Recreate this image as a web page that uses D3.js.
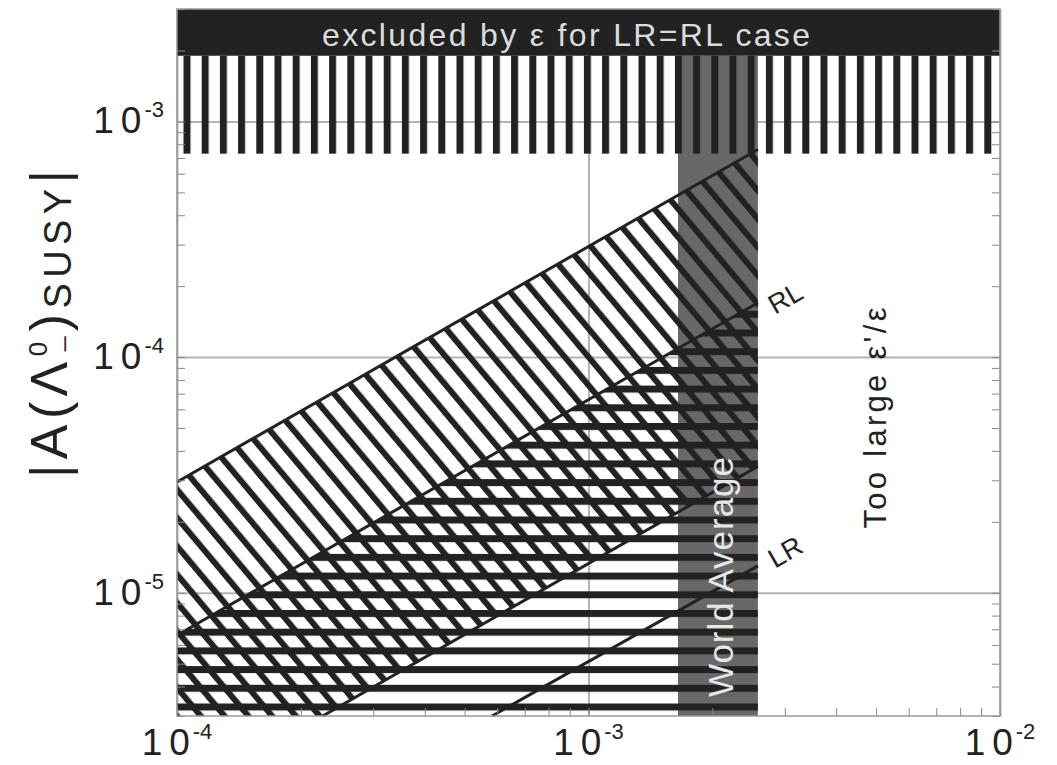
<!DOCTYPE html>
<html><head><meta charset="utf-8">
<script src="https://cdn.jsdelivr.net/npm/d3@7/dist/d3.min.js"></script>
<style>
html,body{margin:0;padding:0;background:#fff;}
svg{display:block;font-family:"Liberation Sans",Arial,Helvetica,sans-serif;}
</style></head>
<body><svg id="chart" width="1057" height="765"></svg>
<script>
// ---------- data ----------
const xDomain = [1e-4, 1e-2];
const yDomain = [3e-6, 3e-3];
const xDecades = [1e-4, 1e-3, 1e-2];
const xTickExponents = ["-4", "-3", "-2"];
const yDecades = [1e-5, 1e-4, 1e-3];
const yTickExponents = ["-5", "-4", "-3"];
const worldAverage = [1.65e-3, 2.58e-3];
const excludedSolid = [1.9e-3, 3e-3];
const excludedStriped = [7.3e-4, 1.9e-3];
// boundary lines: [eps'/eps, |A|] endpoints
const upperLine = [[1e-4, 2.95e-5], [2.58e-3, 7.6e-4]];
const rlLine    = [[1e-4, 6.6e-6],  [2.58e-3, 1.70e-4]];
const midLine   = [[2.26e-4, 3e-6], [2.58e-3, 3.44e-5]];
const lrLine    = [[5.83e-4, 3e-6], [2.58e-3, 1.30e-5]];
const topText = "excluded by ε for LR=RL case";

// ---------- setup ----------
const svg = d3.select("#chart");
const x = d3.scaleLog().domain(xDomain).range([177, 1000]);
const y = d3.scaleLog().domain(yDomain).range([716, 9]);
const X0 = x.range()[0], X1 = x.range()[1], Y0 = y.range()[0], Y1 = y.range()[1];
const ink = "#222";

const defs = svg.append("defs");
defs.append("pattern").attr("id","vstripe").attr("patternUnits","userSpaceOnUse")
  .attr("x",183.5).attr("y",0).attr("width",18.2).attr("height",10)
  .append("rect").attr("x",0).attr("y",0).attr("width",7).attr("height",10).attr("fill",ink);
defs.append("pattern").attr("id","hstripe").attr("patternUnits","userSpaceOnUse")
  .attr("x",0).attr("y",703.5).attr("width",10).attr("height",18.7)
  .append("rect").attr("x",0).attr("y",0).attr("width",10).attr("height",7).attr("fill",ink);
defs.append("pattern").attr("id","dstripe").attr("patternUnits","userSpaceOnUse")
  .attr("x",0).attr("y",0).attr("width",18.2).attr("height",10)
  .attr("patternTransform","rotate(-40)")
  .append("rect").attr("x",0).attr("y",0).attr("width",6).attr("height",10).attr("fill",ink);

svg.append("rect").attr("x",0).attr("y",0).attr("width",1057).attr("height",765).attr("fill","#fff");

// grid lines at decades
svg.append("g").attr("transform",`translate(0,${Y0})`)
  .call(d3.axisBottom(x).tickValues(xDecades).tickSize(-(Y0-Y1)).tickFormat(""))
  .call(g=>g.select(".domain").remove())
  .call(g=>g.selectAll("line").attr("stroke","#b4b4b4").attr("stroke-width",2));
svg.append("g").attr("transform",`translate(${X0},0)`)
  .call(d3.axisLeft(y).tickValues(yDecades).tickSize(-(X1-X0)).tickFormat(""))
  .call(g=>g.select(".domain").remove())
  .call(g=>g.selectAll("line").attr("stroke","#b4b4b4").attr("stroke-width",2));

// world average band
svg.append("rect").attr("x",x(worldAverage[0])).attr("width",x(worldAverage[1])-x(worldAverage[0]))
  .attr("y",y(excludedSolid[0])).attr("height",Y0-y(excludedSolid[0])).attr("fill","#686868");

// excluded region at top
svg.append("rect").attr("x",X0).attr("width",X1-X0).attr("y",y(excludedSolid[1]))
  .attr("height",y(excludedSolid[0])-y(excludedSolid[1])).attr("fill",ink);
svg.append("rect").attr("x",X0).attr("width",X1-X0).attr("y",y(excludedStriped[1]))
  .attr("height",y(excludedStriped[0])-y(excludedStriped[1])).attr("fill","url(#vstripe)");

// hatched regions
const poly = d3.line().x(d=>x(d[0])).y(d=>y(d[1]));
const diagRegion = [upperLine[0], upperLine[1], midLine[1], midLine[0], [xDomain[0], yDomain[0]]];
const horizRegion = [rlLine[0], rlLine[1], [rlLine[1][0], yDomain[0]], [xDomain[0], yDomain[0]]];
svg.append("path").attr("d", poly(diagRegion)+"Z").attr("fill","url(#dstripe)");
svg.append("path").attr("d", poly(horizRegion)+"Z").attr("fill","url(#hstripe)");

// boundary lines
[upperLine, rlLine, midLine, lrLine].forEach(l=>{
  svg.append("path").attr("d", poly(l)).attr("stroke",ink).attr("stroke-width",3).attr("fill","none");
});

// minor ticks (inward)
const minor = y.ticks();
svg.append("g").attr("transform",`translate(${X0},0)`)
  .call(d3.axisLeft(y).tickValues(minor).tickSize(-8).tickFormat(""))
  .call(g=>g.select(".domain").remove())
  .call(g=>g.selectAll("line").attr("stroke","#888"));
svg.append("g").attr("transform",`translate(${X1},0)`)
  .call(d3.axisRight(y).tickValues(minor).tickSize(-8).tickFormat(""))
  .call(g=>g.select(".domain").remove())
  .call(g=>g.selectAll("line").attr("stroke","#888"));
svg.append("g").attr("transform",`translate(0,${Y0})`)
  .call(d3.axisBottom(x).tickValues(x.ticks()).tickSize(-8).tickFormat(""))
  .call(g=>g.select(".domain").remove())
  .call(g=>g.selectAll("line").attr("stroke","#888"));

// frame
svg.append("rect").attr("x",X0).attr("y",Y1).attr("width",X1-X0).attr("height",Y0-Y1)
  .attr("fill","none").attr("stroke","#999").attr("stroke-width",1.5);

// tick labels
function powLabel(sel, exp){
  sel.append("tspan").text("1");
  sel.append("tspan").attr("dx",7).text("0");
  sel.append("tspan").attr("dx",3).attr("dy",-16).attr("font-size",22).text(exp);
}
xDecades.forEach((v,i)=>{
  svg.append("text").attr("x",x(v)).attr("y",755).attr("text-anchor","middle")
    .attr("font-size",37).attr("fill","#222").call(powLabel, xTickExponents[i]);
});
yDecades.forEach((v,i)=>{
  svg.append("text").attr("x",164).attr("y",y(v)+12).attr("text-anchor","end")
    .attr("font-size",37).attr("fill","#222").call(powLabel, yTickExponents[i]);
});

// texts
svg.append("text").attr("x",566).attr("y",46).attr("text-anchor","middle")
  .attr("font-size",32).attr("fill","#dcdcdc").attr("textLength",488).attr("lengthAdjust","spacing")
  .text(topText);

svg.append("text").attr("transform","translate(790,306) rotate(-30)").attr("text-anchor","middle")
  .attr("font-size",27).attr("fill",ink).text("RL");
svg.append("text").attr("transform","translate(790,560) rotate(-30)").attr("text-anchor","middle")
  .attr("font-size",27).attr("fill",ink).text("LR");

svg.append("text").attr("transform","translate(733,577) rotate(-90)").attr("text-anchor","middle")
  .attr("font-size",35).attr("fill","#e6e6e6").attr("textLength",240).attr("lengthAdjust","spacing")
  .text("World Average");

svg.append("text").attr("transform","translate(886,418) rotate(-90)").attr("text-anchor","middle")
  .attr("font-size",31).attr("fill",ink).attr("textLength",221).attr("lengthAdjust","spacing")
  .text("Too large ε'/ε");

// y axis title
const yt = svg.append("text").attr("transform","translate(67,324) rotate(-90)")
  .attr("text-anchor","middle").attr("font-size",52).attr("fill",ink)
  .attr("textLength",308).attr("lengthAdjust","spacing");
yt.append("tspan").text("|A(Λ");
yt.append("tspan").attr("font-size",26).attr("dy",-20).text("0");
yt.append("tspan").attr("font-size",26).attr("dx",-14.5).attr("dy",14).text("_");
yt.append("tspan").attr("dy",6).text(")");
yt.append("tspan").attr("font-size",38).attr("dy",4).text("SUSY");
yt.append("tspan").attr("dy",-4).text("|");
</script></body></html>
